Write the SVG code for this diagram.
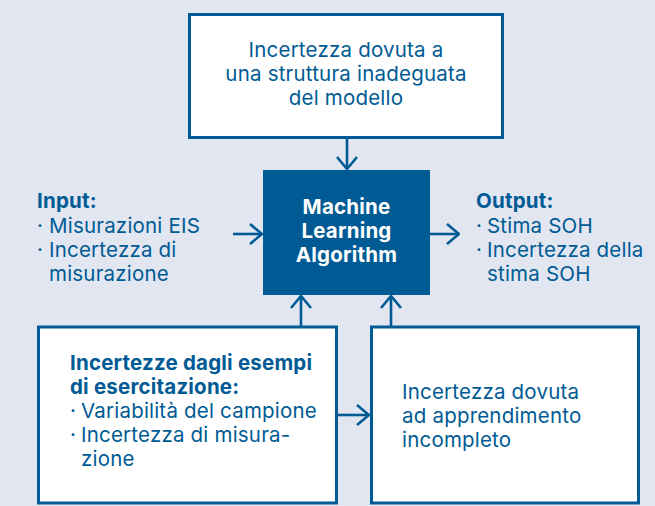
<svg xmlns="http://www.w3.org/2000/svg" width="655" height="506" viewBox="0 0 655 506">
<defs>
<style>
.bg{fill:#e1e6f1}
.box{fill:#ffffff;stroke:#005b94;stroke-width:3}
.core{fill:#005b94}
.t{font-family:Inter,"Liberation Sans",sans-serif;font-size:20.5px;letter-spacing:0.2px;fill:#005b94}
.b{font-weight:bold}
.w{fill:#ffffff;font-weight:bold;text-anchor:middle}
.c{text-anchor:middle}
.conn{stroke:#005b94;stroke-width:2.6;fill:none;marker-end:url(#ah)}
</style>
<marker id="ah" viewBox="0 0 14 22" refX="13" refY="11" markerWidth="14" markerHeight="22" markerUnits="userSpaceOnUse" orient="auto">
<path d="M1,1 L13,11 L1,21" fill="none" stroke="#005b94" stroke-width="2.6"/>
</marker>
</defs>
<rect class="bg" x="0" y="0" width="655" height="506"/>
<g id="connectors">
<path class="conn" d="M347,139 L347,169"/>
<path class="conn" d="M301,326 L301,296"/>
<path class="conn" d="M391,326 L391,296"/>
<path class="conn" d="M233,234 L262,234"/>
<path class="conn" d="M430,234 L459,234"/>
<path class="conn" d="M338,415 L369,415"/>
</g>
<g id="top-box">
<rect class="box" x="189.5" y="14.5" width="313" height="123"/>
<text class="t c" x="346" y="57">Incertezza dovuta a</text>
<text class="t c" x="346" y="81">una struttura inadeguata</text>
<text class="t c" x="346" y="105">del modello</text>
</g>
<g id="ml-algorithm">
<rect class="core" x="263" y="170" width="167" height="125"/>
<text class="t w" x="346.5" y="214">Machine</text>
<text class="t w" x="346.5" y="238">Learning</text>
<text class="t w" x="346.5" y="262">Algorithm</text>
</g>
<g id="input">
<text class="t b" x="37" y="208">Input:</text>
<text class="t" x="37" y="233">·</text>
<text class="t" x="49" y="233">Misurazioni EIS</text>
<text class="t" x="37" y="257">·</text>
<text class="t" x="49" y="257">Incertezza di</text>
<text class="t" x="49" y="281">misurazione</text>
</g>
<g id="output">
<text class="t b" x="476" y="208">Output:</text>
<text class="t" x="476" y="233">·</text>
<text class="t" x="487" y="233">Stima SOH</text>
<text class="t" x="476" y="257">·</text>
<text class="t" x="487" y="257">Incertezza della</text>
<text class="t" x="487" y="281">stima SOH</text>
</g>
<g id="training-box">
<rect class="box" x="38.5" y="327" width="298" height="176"/>
<text class="t b" x="70" y="370">Incertezze dagli esempi</text>
<text class="t b" x="70" y="394">di esercitazione:</text>
<text class="t" x="70" y="418">·</text>
<text class="t" x="81" y="418">Variabilità del campione</text>
<text class="t" x="70" y="442">·</text>
<text class="t" x="81" y="442">Incertezza di misura-</text>
<text class="t" x="81" y="466">zione</text>
</g>
<g id="learning-box">
<rect class="box" x="371.5" y="327" width="267" height="176"/>
<text class="t" x="402" y="399">Incertezza dovuta</text>
<text class="t" x="402" y="423">ad apprendimento</text>
<text class="t" x="402" y="447">incompleto</text>
</g>
</svg>
